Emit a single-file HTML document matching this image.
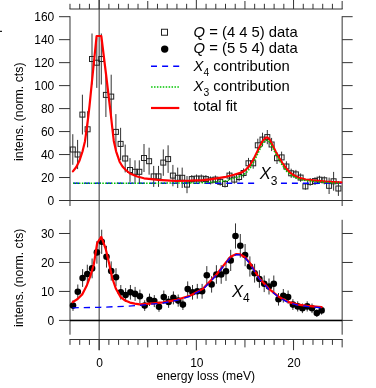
<!DOCTYPE html>
<html><head><meta charset="utf-8"><title>plot</title>
<style>html,body{margin:0;padding:0;background:#fff;}body{width:376px;height:388px;position:relative;overflow:hidden;font-family:"Liberation Sans",sans-serif;}</style>
</head><body>
<svg width="376" height="388" viewBox="0 0 376 388" style="position:absolute;left:0;top:0;filter:grayscale(0);mix-blend-mode:multiply">
<rect width="376" height="388" fill="#fff"/>
<line x1="99.15" y1="0" x2="99.15" y2="350.2" stroke="#333" stroke-width="1"/>
<line x1="69.49" y1="9" x2="342.65" y2="9" stroke="#333" stroke-width="1"/>
<line x1="69.99" y1="9" x2="69.99" y2="3.8" stroke="#333" stroke-width="1"/>
<line x1="79.71" y1="9" x2="79.71" y2="3.8" stroke="#333" stroke-width="1"/>
<line x1="89.43" y1="9" x2="89.43" y2="3.8" stroke="#333" stroke-width="1"/>
<line x1="99.15" y1="9" x2="99.15" y2="-3.0" stroke="#333" stroke-width="1"/>
<line x1="108.87" y1="9" x2="108.87" y2="3.8" stroke="#333" stroke-width="1"/>
<line x1="118.59" y1="9" x2="118.59" y2="3.8" stroke="#333" stroke-width="1"/>
<line x1="128.31" y1="9" x2="128.31" y2="3.8" stroke="#333" stroke-width="1"/>
<line x1="138.03" y1="9" x2="138.03" y2="3.8" stroke="#333" stroke-width="1"/>
<line x1="147.75" y1="9" x2="147.75" y2="1.0" stroke="#333" stroke-width="1"/>
<line x1="157.47" y1="9" x2="157.47" y2="3.8" stroke="#333" stroke-width="1"/>
<line x1="167.19" y1="9" x2="167.19" y2="3.8" stroke="#333" stroke-width="1"/>
<line x1="176.91" y1="9" x2="176.91" y2="3.8" stroke="#333" stroke-width="1"/>
<line x1="186.63" y1="9" x2="186.63" y2="3.8" stroke="#333" stroke-width="1"/>
<line x1="196.35" y1="9" x2="196.35" y2="-3.0" stroke="#333" stroke-width="1"/>
<line x1="206.07" y1="9" x2="206.07" y2="3.8" stroke="#333" stroke-width="1"/>
<line x1="215.79" y1="9" x2="215.79" y2="3.8" stroke="#333" stroke-width="1"/>
<line x1="225.51" y1="9" x2="225.51" y2="3.8" stroke="#333" stroke-width="1"/>
<line x1="235.23" y1="9" x2="235.23" y2="3.8" stroke="#333" stroke-width="1"/>
<line x1="244.95" y1="9" x2="244.95" y2="1.0" stroke="#333" stroke-width="1"/>
<line x1="254.67" y1="9" x2="254.67" y2="3.8" stroke="#333" stroke-width="1"/>
<line x1="264.39" y1="9" x2="264.39" y2="3.8" stroke="#333" stroke-width="1"/>
<line x1="274.11" y1="9" x2="274.11" y2="3.8" stroke="#333" stroke-width="1"/>
<line x1="283.83" y1="9" x2="283.83" y2="3.8" stroke="#333" stroke-width="1"/>
<line x1="293.55" y1="9" x2="293.55" y2="-3.0" stroke="#333" stroke-width="1"/>
<line x1="303.27" y1="9" x2="303.27" y2="3.8" stroke="#333" stroke-width="1"/>
<line x1="312.99" y1="9" x2="312.99" y2="3.8" stroke="#333" stroke-width="1"/>
<line x1="322.71" y1="9" x2="322.71" y2="3.8" stroke="#333" stroke-width="1"/>
<line x1="332.43" y1="9" x2="332.43" y2="3.8" stroke="#333" stroke-width="1"/>
<line x1="342.15" y1="9" x2="342.15" y2="1.0" stroke="#333" stroke-width="1"/>
<line x1="69.49" y1="339.5" x2="342.65" y2="339.5" stroke="#333" stroke-width="1"/>
<line x1="69.99" y1="339.5" x2="69.99" y2="344.9" stroke="#333" stroke-width="1"/>
<line x1="79.71" y1="339.5" x2="79.71" y2="344.9" stroke="#333" stroke-width="1"/>
<line x1="89.43" y1="339.5" x2="89.43" y2="344.9" stroke="#333" stroke-width="1"/>
<line x1="99.15" y1="339.5" x2="99.15" y2="350.2" stroke="#333" stroke-width="1"/>
<line x1="108.87" y1="339.5" x2="108.87" y2="344.9" stroke="#333" stroke-width="1"/>
<line x1="118.59" y1="339.5" x2="118.59" y2="344.9" stroke="#333" stroke-width="1"/>
<line x1="128.31" y1="339.5" x2="128.31" y2="344.9" stroke="#333" stroke-width="1"/>
<line x1="138.03" y1="339.5" x2="138.03" y2="344.9" stroke="#333" stroke-width="1"/>
<line x1="147.75" y1="339.5" x2="147.75" y2="347.4" stroke="#333" stroke-width="1"/>
<line x1="157.47" y1="339.5" x2="157.47" y2="344.9" stroke="#333" stroke-width="1"/>
<line x1="167.19" y1="339.5" x2="167.19" y2="344.9" stroke="#333" stroke-width="1"/>
<line x1="176.91" y1="339.5" x2="176.91" y2="344.9" stroke="#333" stroke-width="1"/>
<line x1="186.63" y1="339.5" x2="186.63" y2="344.9" stroke="#333" stroke-width="1"/>
<line x1="196.35" y1="339.5" x2="196.35" y2="350.2" stroke="#333" stroke-width="1"/>
<line x1="206.07" y1="339.5" x2="206.07" y2="344.9" stroke="#333" stroke-width="1"/>
<line x1="215.79" y1="339.5" x2="215.79" y2="344.9" stroke="#333" stroke-width="1"/>
<line x1="225.51" y1="339.5" x2="225.51" y2="344.9" stroke="#333" stroke-width="1"/>
<line x1="235.23" y1="339.5" x2="235.23" y2="344.9" stroke="#333" stroke-width="1"/>
<line x1="244.95" y1="339.5" x2="244.95" y2="347.4" stroke="#333" stroke-width="1"/>
<line x1="254.67" y1="339.5" x2="254.67" y2="344.9" stroke="#333" stroke-width="1"/>
<line x1="264.39" y1="339.5" x2="264.39" y2="344.9" stroke="#333" stroke-width="1"/>
<line x1="274.11" y1="339.5" x2="274.11" y2="344.9" stroke="#333" stroke-width="1"/>
<line x1="283.83" y1="339.5" x2="283.83" y2="344.9" stroke="#333" stroke-width="1"/>
<line x1="293.55" y1="339.5" x2="293.55" y2="350.2" stroke="#333" stroke-width="1"/>
<line x1="303.27" y1="339.5" x2="303.27" y2="344.9" stroke="#333" stroke-width="1"/>
<line x1="312.99" y1="339.5" x2="312.99" y2="344.9" stroke="#333" stroke-width="1"/>
<line x1="322.71" y1="339.5" x2="322.71" y2="344.9" stroke="#333" stroke-width="1"/>
<line x1="332.43" y1="339.5" x2="332.43" y2="344.9" stroke="#333" stroke-width="1"/>
<line x1="342.15" y1="339.5" x2="342.15" y2="347.4" stroke="#333" stroke-width="1"/>
<line x1="69.99" y1="16.20" x2="69.99" y2="206" stroke="#333" stroke-width="1"/>
<line x1="342.15" y1="16.20" x2="342.15" y2="206" stroke="#333" stroke-width="1"/>
<line x1="58.99" y1="177.53" x2="69.99" y2="177.53" stroke="#333" stroke-width="1"/>
<line x1="342.15" y1="177.53" x2="352.65" y2="177.53" stroke="#333" stroke-width="1"/>
<line x1="58.99" y1="154.55" x2="69.99" y2="154.55" stroke="#333" stroke-width="1"/>
<line x1="342.15" y1="154.55" x2="352.65" y2="154.55" stroke="#333" stroke-width="1"/>
<line x1="58.99" y1="131.57" x2="69.99" y2="131.57" stroke="#333" stroke-width="1"/>
<line x1="342.15" y1="131.57" x2="352.65" y2="131.57" stroke="#333" stroke-width="1"/>
<line x1="58.99" y1="108.60" x2="69.99" y2="108.60" stroke="#333" stroke-width="1"/>
<line x1="342.15" y1="108.60" x2="352.65" y2="108.60" stroke="#333" stroke-width="1"/>
<line x1="58.99" y1="85.62" x2="69.99" y2="85.62" stroke="#333" stroke-width="1"/>
<line x1="342.15" y1="85.62" x2="352.65" y2="85.62" stroke="#333" stroke-width="1"/>
<line x1="58.99" y1="62.65" x2="69.99" y2="62.65" stroke="#333" stroke-width="1"/>
<line x1="342.15" y1="62.65" x2="352.65" y2="62.65" stroke="#333" stroke-width="1"/>
<line x1="58.99" y1="39.67" x2="69.99" y2="39.67" stroke="#333" stroke-width="1"/>
<line x1="342.15" y1="39.67" x2="352.65" y2="39.67" stroke="#333" stroke-width="1"/>
<line x1="58.99" y1="16.70" x2="69.99" y2="16.70" stroke="#333" stroke-width="1"/>
<line x1="342.15" y1="16.70" x2="352.65" y2="16.70" stroke="#333" stroke-width="1"/>
<line x1="58.99" y1="200.5" x2="352.65" y2="200.5" stroke="#333" stroke-width="1"/>
<line x1="69.99" y1="219.8" x2="69.99" y2="334.7" stroke="#333" stroke-width="1"/>
<line x1="342.15" y1="219.8" x2="342.15" y2="334.7" stroke="#333" stroke-width="1"/>
<line x1="58.99" y1="291.43" x2="69.99" y2="291.43" stroke="#333" stroke-width="1"/>
<line x1="342.15" y1="291.43" x2="352.65" y2="291.43" stroke="#333" stroke-width="1"/>
<line x1="58.99" y1="262.46" x2="69.99" y2="262.46" stroke="#333" stroke-width="1"/>
<line x1="342.15" y1="262.46" x2="352.65" y2="262.46" stroke="#333" stroke-width="1"/>
<line x1="58.99" y1="233.49" x2="69.99" y2="233.49" stroke="#333" stroke-width="1"/>
<line x1="342.15" y1="233.49" x2="352.65" y2="233.49" stroke="#333" stroke-width="1"/>
<line x1="58.99" y1="320.4" x2="352.65" y2="320.4" stroke="#333" stroke-width="1"/>
<line x1="69.99" y1="320.54999999999995" x2="342.15" y2="320.54999999999995" stroke="#000" stroke-width="1.6"/>
<line x1="72.8" y1="134.2" x2="72.8" y2="164.8" stroke="#333" stroke-width="1"/>
<line x1="77.6" y1="139.9" x2="77.6" y2="169.1" stroke="#333" stroke-width="1"/>
<line x1="82.4" y1="94.7" x2="82.4" y2="134.5" stroke="#333" stroke-width="1"/>
<line x1="87.6" y1="111.2" x2="87.6" y2="147.4" stroke="#333" stroke-width="1"/>
<line x1="92.0" y1="33.5" x2="92.0" y2="84.5" stroke="#333" stroke-width="1"/>
<line x1="96.8" y1="37.5" x2="96.8" y2="87.9" stroke="#333" stroke-width="1"/>
<line x1="101.3" y1="33.5" x2="101.3" y2="84.5" stroke="#333" stroke-width="1"/>
<line x1="105.9" y1="72.8" x2="105.9" y2="117.0" stroke="#333" stroke-width="1"/>
<line x1="111.2" y1="74.7" x2="111.2" y2="118.5" stroke="#333" stroke-width="1"/>
<line x1="115.9" y1="114.1" x2="115.9" y2="149.7" stroke="#333" stroke-width="1"/>
<line x1="120.6" y1="127.8" x2="120.6" y2="160.0" stroke="#333" stroke-width="1"/>
<line x1="125.2" y1="144.6" x2="125.2" y2="172.4" stroke="#333" stroke-width="1"/>
<line x1="130.0" y1="158.1" x2="130.0" y2="181.9" stroke="#333" stroke-width="1"/>
<line x1="135.0" y1="160.3" x2="135.0" y2="183.3" stroke="#333" stroke-width="1"/>
<line x1="139.3" y1="160.3" x2="139.3" y2="183.3" stroke="#333" stroke-width="1"/>
<line x1="144.0" y1="144.0" x2="144.0" y2="172.0" stroke="#333" stroke-width="1"/>
<line x1="149.1" y1="147.7" x2="149.1" y2="174.7" stroke="#333" stroke-width="1"/>
<line x1="153.7" y1="165.9" x2="153.7" y2="186.9" stroke="#333" stroke-width="1"/>
<line x1="158.5" y1="165.9" x2="158.5" y2="186.9" stroke="#333" stroke-width="1"/>
<line x1="163.3" y1="149.4" x2="163.3" y2="175.8" stroke="#333" stroke-width="1"/>
<line x1="168.1" y1="145.3" x2="168.1" y2="172.9" stroke="#333" stroke-width="1"/>
<line x1="172.9" y1="164.9" x2="172.9" y2="186.3" stroke="#333" stroke-width="1"/>
<line x1="177.7" y1="167.6" x2="177.7" y2="188.0" stroke="#333" stroke-width="1"/>
<line x1="182.2" y1="167.6" x2="182.2" y2="188.0" stroke="#333" stroke-width="1"/>
<line x1="187.0" y1="176.0" x2="187.0" y2="193.2" stroke="#333" stroke-width="1"/>
<line x1="191.8" y1="175.0" x2="191.8" y2="183.2" stroke="#333" stroke-width="1"/>
<line x1="196.5" y1="174.5" x2="196.5" y2="182.7" stroke="#333" stroke-width="1"/>
<line x1="201.3" y1="174.5" x2="201.3" y2="182.7" stroke="#333" stroke-width="1"/>
<line x1="205.9" y1="175.0" x2="205.9" y2="183.2" stroke="#333" stroke-width="1"/>
<line x1="210.6" y1="176.4" x2="210.6" y2="184.4" stroke="#333" stroke-width="1"/>
<line x1="215.4" y1="175.5" x2="215.4" y2="183.7" stroke="#333" stroke-width="1"/>
<line x1="220.2" y1="178.0" x2="220.2" y2="185.6" stroke="#333" stroke-width="1"/>
<line x1="225.0" y1="180.3" x2="225.0" y2="187.5" stroke="#333" stroke-width="1"/>
<line x1="229.5" y1="171.2" x2="229.5" y2="180.0" stroke="#333" stroke-width="1"/>
<line x1="234.3" y1="175.5" x2="234.3" y2="183.7" stroke="#333" stroke-width="1"/>
<line x1="239.1" y1="172.7" x2="239.1" y2="181.3" stroke="#333" stroke-width="1"/>
<line x1="243.6" y1="168.4" x2="243.6" y2="177.6" stroke="#333" stroke-width="1"/>
<line x1="248.5" y1="157.9" x2="248.5" y2="168.7" stroke="#333" stroke-width="1"/>
<line x1="253.2" y1="157.9" x2="253.2" y2="168.7" stroke="#333" stroke-width="1"/>
<line x1="257.8" y1="138.7" x2="257.8" y2="151.9" stroke="#333" stroke-width="1"/>
<line x1="262.5" y1="132.7" x2="262.5" y2="146.5" stroke="#333" stroke-width="1"/>
<line x1="267.3" y1="130.0" x2="267.3" y2="144.2" stroke="#333" stroke-width="1"/>
<line x1="271.6" y1="137.9" x2="271.6" y2="151.1" stroke="#333" stroke-width="1"/>
<line x1="277.0" y1="152.4" x2="277.0" y2="164.0" stroke="#333" stroke-width="1"/>
<line x1="281.6" y1="151.6" x2="281.6" y2="163.2" stroke="#333" stroke-width="1"/>
<line x1="286.4" y1="161.3" x2="286.4" y2="171.7" stroke="#333" stroke-width="1"/>
<line x1="291.2" y1="168.7" x2="291.2" y2="177.9" stroke="#333" stroke-width="1"/>
<line x1="295.9" y1="169.9" x2="295.9" y2="178.9" stroke="#333" stroke-width="1"/>
<line x1="300.6" y1="173.4" x2="300.6" y2="181.8" stroke="#333" stroke-width="1"/>
<line x1="305.4" y1="183.1" x2="305.4" y2="189.7" stroke="#333" stroke-width="1"/>
<line x1="310.2" y1="178.1" x2="310.2" y2="185.7" stroke="#333" stroke-width="1"/>
<line x1="315.0" y1="177.2" x2="315.0" y2="185.0" stroke="#333" stroke-width="1"/>
<line x1="319.5" y1="175.7" x2="319.5" y2="183.7" stroke="#333" stroke-width="1"/>
<line x1="324.3" y1="176.3" x2="324.3" y2="184.3" stroke="#333" stroke-width="1"/>
<line x1="329.1" y1="177.6" x2="329.1" y2="194.0" stroke="#333" stroke-width="1"/>
<line x1="333.6" y1="171.9" x2="333.6" y2="190.7" stroke="#333" stroke-width="1"/>
<line x1="338.4" y1="181.1" x2="338.4" y2="195.9" stroke="#333" stroke-width="1"/>
<rect x="70.3" y="147.0" width="5" height="5" fill="none" stroke="#222" stroke-width="1"/>
<rect x="75.1" y="152.0" width="5" height="5" fill="none" stroke="#222" stroke-width="1"/>
<rect x="79.9" y="112.1" width="5" height="5" fill="none" stroke="#222" stroke-width="1"/>
<rect x="85.1" y="126.8" width="5" height="5" fill="none" stroke="#222" stroke-width="1"/>
<rect x="89.5" y="56.5" width="5" height="5" fill="none" stroke="#222" stroke-width="1"/>
<rect x="94.3" y="60.2" width="5" height="5" fill="none" stroke="#222" stroke-width="1"/>
<rect x="98.8" y="56.5" width="5" height="5" fill="none" stroke="#222" stroke-width="1"/>
<rect x="103.4" y="92.4" width="5" height="5" fill="none" stroke="#222" stroke-width="1"/>
<rect x="108.7" y="94.1" width="5" height="5" fill="none" stroke="#222" stroke-width="1"/>
<rect x="113.4" y="129.4" width="5" height="5" fill="none" stroke="#222" stroke-width="1"/>
<rect x="118.1" y="141.4" width="5" height="5" fill="none" stroke="#222" stroke-width="1"/>
<rect x="122.7" y="156.0" width="5" height="5" fill="none" stroke="#222" stroke-width="1"/>
<rect x="127.5" y="167.5" width="5" height="5" fill="none" stroke="#222" stroke-width="1"/>
<rect x="132.5" y="169.3" width="5" height="5" fill="none" stroke="#222" stroke-width="1"/>
<rect x="136.8" y="169.3" width="5" height="5" fill="none" stroke="#222" stroke-width="1"/>
<rect x="141.5" y="155.5" width="5" height="5" fill="none" stroke="#222" stroke-width="1"/>
<rect x="146.6" y="158.7" width="5" height="5" fill="none" stroke="#222" stroke-width="1"/>
<rect x="151.2" y="173.9" width="5" height="5" fill="none" stroke="#222" stroke-width="1"/>
<rect x="156.0" y="173.9" width="5" height="5" fill="none" stroke="#222" stroke-width="1"/>
<rect x="160.8" y="160.1" width="5" height="5" fill="none" stroke="#222" stroke-width="1"/>
<rect x="165.6" y="156.6" width="5" height="5" fill="none" stroke="#222" stroke-width="1"/>
<rect x="170.4" y="173.1" width="5" height="5" fill="none" stroke="#222" stroke-width="1"/>
<rect x="175.2" y="175.3" width="5" height="5" fill="none" stroke="#222" stroke-width="1"/>
<rect x="179.7" y="175.3" width="5" height="5" fill="none" stroke="#222" stroke-width="1"/>
<rect x="184.5" y="182.1" width="5" height="5" fill="none" stroke="#222" stroke-width="1"/>
<rect x="189.3" y="176.6" width="5" height="5" fill="none" stroke="#222" stroke-width="1"/>
<rect x="194.0" y="176.1" width="5" height="5" fill="none" stroke="#222" stroke-width="1"/>
<rect x="198.8" y="176.1" width="5" height="5" fill="none" stroke="#222" stroke-width="1"/>
<rect x="203.4" y="176.6" width="5" height="5" fill="none" stroke="#222" stroke-width="1"/>
<rect x="208.1" y="177.9" width="5" height="5" fill="none" stroke="#222" stroke-width="1"/>
<rect x="212.9" y="177.1" width="5" height="5" fill="none" stroke="#222" stroke-width="1"/>
<rect x="217.7" y="179.3" width="5" height="5" fill="none" stroke="#222" stroke-width="1"/>
<rect x="222.5" y="181.4" width="5" height="5" fill="none" stroke="#222" stroke-width="1"/>
<rect x="227.0" y="173.1" width="5" height="5" fill="none" stroke="#222" stroke-width="1"/>
<rect x="231.8" y="177.1" width="5" height="5" fill="none" stroke="#222" stroke-width="1"/>
<rect x="236.6" y="174.5" width="5" height="5" fill="none" stroke="#222" stroke-width="1"/>
<rect x="241.1" y="170.5" width="5" height="5" fill="none" stroke="#222" stroke-width="1"/>
<rect x="246.0" y="160.8" width="5" height="5" fill="none" stroke="#222" stroke-width="1"/>
<rect x="250.7" y="160.8" width="5" height="5" fill="none" stroke="#222" stroke-width="1"/>
<rect x="255.3" y="142.8" width="5" height="5" fill="none" stroke="#222" stroke-width="1"/>
<rect x="260.0" y="137.1" width="5" height="5" fill="none" stroke="#222" stroke-width="1"/>
<rect x="264.8" y="134.6" width="5" height="5" fill="none" stroke="#222" stroke-width="1"/>
<rect x="269.1" y="142.0" width="5" height="5" fill="none" stroke="#222" stroke-width="1"/>
<rect x="274.5" y="155.7" width="5" height="5" fill="none" stroke="#222" stroke-width="1"/>
<rect x="279.1" y="154.9" width="5" height="5" fill="none" stroke="#222" stroke-width="1"/>
<rect x="283.9" y="164.0" width="5" height="5" fill="none" stroke="#222" stroke-width="1"/>
<rect x="288.7" y="170.8" width="5" height="5" fill="none" stroke="#222" stroke-width="1"/>
<rect x="293.4" y="171.9" width="5" height="5" fill="none" stroke="#222" stroke-width="1"/>
<rect x="298.1" y="175.1" width="5" height="5" fill="none" stroke="#222" stroke-width="1"/>
<rect x="302.9" y="183.9" width="5" height="5" fill="none" stroke="#222" stroke-width="1"/>
<rect x="307.7" y="179.4" width="5" height="5" fill="none" stroke="#222" stroke-width="1"/>
<rect x="312.5" y="178.6" width="5" height="5" fill="none" stroke="#222" stroke-width="1"/>
<rect x="317.0" y="177.2" width="5" height="5" fill="none" stroke="#222" stroke-width="1"/>
<rect x="321.8" y="177.8" width="5" height="5" fill="none" stroke="#222" stroke-width="1"/>
<rect x="326.6" y="183.3" width="5" height="5" fill="none" stroke="#222" stroke-width="1"/>
<rect x="331.1" y="178.8" width="5" height="5" fill="none" stroke="#222" stroke-width="1"/>
<rect x="335.9" y="186.0" width="5" height="5" fill="none" stroke="#222" stroke-width="1"/>
<line x1="73.1" y1="183.2" x2="341.5" y2="183.2" stroke="#0000ff" stroke-width="1.35" stroke-dasharray="6 4.94"/>
<rect x="258.5" y="166.5" width="18.5" height="19.5" fill="#fff"/>
<polyline points="72.9,171.4 76.3,167.0 79.4,160.8 82.5,151.5 85.0,141.2 86.6,129.5 88.1,118.0 89.5,106.0 91.8,83.0 96.6,36.0 101.3,36.0 106.0,74.0 110.7,113.3 112.3,128.0 113.8,141.0 116.1,151.3 119.6,161.7 122.5,166.5 125.8,170.0 130.0,173.5 137.2,176.5 144.0,178.3 158.4,179.8 170.0,180.6 176.0,181.0 190.0,180.7 202.6,180.1 210.0,179.3 218.0,178.2 226.0,176.8 234.0,174.7 241.9,172.4 246.0,169.6 249.9,165.3 253.8,158.8 257.8,150.5 262.3,141.4 265.0,138.2 267.3,137.3 269.5,139.2 272.6,145.3 276.0,152.2 279.3,158.0 282.6,163.3 285.9,168.0 289.2,171.8 292.6,174.6 299.2,177.9 305.9,179.6 316.0,180.6 326.0,181.5 338.4,182.3 341.3,182.4" fill="none" stroke="#ff0000" stroke-width="2.2" stroke-linejoin="round" stroke-linecap="round"/>
<polyline points="73.1,183.2 190.0,183.1 196.0,183.0 198.0,182.9 200.0,182.8 202.0,182.8 204.0,182.7 206.0,182.6 208.0,182.4 210.0,182.3 212.0,182.2 214.0,182.0 216.0,181.8 218.0,181.7 220.0,181.5 222.0,181.2 224.0,181.0 226.0,180.8 228.0,180.2 230.0,179.6 232.0,179.0 234.0,178.3 236.0,177.7 238.0,177.0 240.0,176.3 242.0,175.6 244.0,174.3 246.0,172.9 248.0,170.7 250.0,168.4 252.0,165.0 254.0,161.6 256.0,157.4 258.0,153.3 260.0,149.1 262.0,144.8 264.0,142.0 266.0,140.2 268.0,140.2 270.0,142.6 272.0,146.6 274.0,150.6 276.0,154.7 278.0,158.2 280.0,161.6 282.0,164.8 284.0,167.7 286.0,170.5 288.0,172.6 290.0,174.4 292.0,175.8 294.0,176.8 296.0,177.7 298.0,178.7 300.0,179.4 302.0,179.8 304.0,180.2 306.0,180.6 308.0,180.8 310.0,181.0 312.0,181.2 314.0,181.4 316.0,181.6 318.0,181.7 320.0,181.9 322.0,182.1 324.0,182.3 326.0,182.4 328.0,182.6 330.0,182.7 332.0,182.8 334.0,182.9 336.0,183.1 338.0,183.2 340.0,183.2" fill="none" stroke="#00c400" stroke-width="1.5" stroke-dasharray="1.5 1.42"/>
<line x1="73.0" y1="300.3" x2="73.0" y2="310.9" stroke="#333" stroke-width="1"/>
<line x1="77.8" y1="284.5" x2="77.8" y2="299.1" stroke="#333" stroke-width="1"/>
<line x1="82.6" y1="269.1" x2="82.6" y2="286.9" stroke="#333" stroke-width="1"/>
<line x1="87.3" y1="264.7" x2="87.3" y2="283.3" stroke="#333" stroke-width="1"/>
<line x1="92.1" y1="258.5" x2="92.1" y2="278.3" stroke="#333" stroke-width="1"/>
<line x1="96.9" y1="241.1" x2="96.9" y2="263.7" stroke="#333" stroke-width="1"/>
<line x1="101.7" y1="229.7" x2="101.7" y2="253.9" stroke="#333" stroke-width="1"/>
<line x1="106.5" y1="245.8" x2="106.5" y2="267.6" stroke="#333" stroke-width="1"/>
<line x1="111.2" y1="261.4" x2="111.2" y2="280.6" stroke="#333" stroke-width="1"/>
<line x1="116.0" y1="268.2" x2="116.0" y2="286.2" stroke="#333" stroke-width="1"/>
<line x1="120.8" y1="285.0" x2="120.8" y2="299.6" stroke="#333" stroke-width="1"/>
<line x1="125.6" y1="288.1" x2="125.6" y2="301.9" stroke="#333" stroke-width="1"/>
<line x1="130.4" y1="285.0" x2="130.4" y2="299.6" stroke="#333" stroke-width="1"/>
<line x1="135.1" y1="286.9" x2="135.1" y2="300.9" stroke="#333" stroke-width="1"/>
<line x1="139.9" y1="289.6" x2="139.9" y2="303.0" stroke="#333" stroke-width="1"/>
<line x1="144.7" y1="300.3" x2="144.7" y2="310.9" stroke="#333" stroke-width="1"/>
<line x1="149.5" y1="293.6" x2="149.5" y2="306.0" stroke="#333" stroke-width="1"/>
<line x1="154.3" y1="295.1" x2="154.3" y2="307.1" stroke="#333" stroke-width="1"/>
<line x1="159.0" y1="301.6" x2="159.0" y2="311.8" stroke="#333" stroke-width="1"/>
<line x1="163.8" y1="290.5" x2="163.8" y2="303.7" stroke="#333" stroke-width="1"/>
<line x1="168.6" y1="296.0" x2="168.6" y2="307.8" stroke="#333" stroke-width="1"/>
<line x1="173.4" y1="291.4" x2="173.4" y2="304.4" stroke="#333" stroke-width="1"/>
<line x1="178.2" y1="294.5" x2="178.2" y2="306.7" stroke="#333" stroke-width="1"/>
<line x1="182.9" y1="299.2" x2="182.9" y2="310.0" stroke="#333" stroke-width="1"/>
<line x1="187.7" y1="281.4" x2="187.7" y2="296.8" stroke="#333" stroke-width="1"/>
<line x1="192.5" y1="285.0" x2="192.5" y2="299.6" stroke="#333" stroke-width="1"/>
<line x1="197.3" y1="283.9" x2="197.3" y2="298.7" stroke="#333" stroke-width="1"/>
<line x1="202.1" y1="283.9" x2="202.1" y2="298.7" stroke="#333" stroke-width="1"/>
<line x1="206.8" y1="266.1" x2="206.8" y2="284.5" stroke="#333" stroke-width="1"/>
<line x1="211.6" y1="276.2" x2="211.6" y2="292.6" stroke="#333" stroke-width="1"/>
<line x1="216.4" y1="265.2" x2="216.4" y2="283.8" stroke="#333" stroke-width="1"/>
<line x1="221.2" y1="265.2" x2="221.2" y2="283.8" stroke="#333" stroke-width="1"/>
<line x1="226.0" y1="261.7" x2="226.0" y2="280.9" stroke="#333" stroke-width="1"/>
<line x1="230.7" y1="249.8" x2="230.7" y2="271.0" stroke="#333" stroke-width="1"/>
<line x1="235.5" y1="223.4" x2="235.5" y2="248.6" stroke="#333" stroke-width="1"/>
<line x1="240.3" y1="234.0" x2="240.3" y2="257.6" stroke="#333" stroke-width="1"/>
<line x1="245.1" y1="244.0" x2="245.1" y2="266.2" stroke="#333" stroke-width="1"/>
<line x1="249.9" y1="256.4" x2="249.9" y2="276.6" stroke="#333" stroke-width="1"/>
<line x1="254.6" y1="263.8" x2="254.6" y2="282.6" stroke="#333" stroke-width="1"/>
<line x1="259.4" y1="270.2" x2="259.4" y2="287.8" stroke="#333" stroke-width="1"/>
<line x1="264.2" y1="275.5" x2="264.2" y2="292.1" stroke="#333" stroke-width="1"/>
<line x1="269.0" y1="278.5" x2="269.0" y2="294.5" stroke="#333" stroke-width="1"/>
<line x1="273.8" y1="275.5" x2="273.8" y2="292.1" stroke="#333" stroke-width="1"/>
<line x1="278.5" y1="293.0" x2="278.5" y2="305.6" stroke="#333" stroke-width="1"/>
<line x1="283.3" y1="289.0" x2="283.3" y2="302.6" stroke="#333" stroke-width="1"/>
<line x1="288.1" y1="290.5" x2="288.1" y2="303.7" stroke="#333" stroke-width="1"/>
<line x1="292.9" y1="299.2" x2="292.9" y2="310.0" stroke="#333" stroke-width="1"/>
<line x1="297.7" y1="301.3" x2="297.7" y2="311.5" stroke="#333" stroke-width="1"/>
<line x1="302.4" y1="303.5" x2="302.4" y2="313.1" stroke="#333" stroke-width="1"/>
<line x1="307.2" y1="301.3" x2="307.2" y2="311.5" stroke="#333" stroke-width="1"/>
<line x1="312.0" y1="303.5" x2="312.0" y2="313.1" stroke="#333" stroke-width="1"/>
<line x1="316.8" y1="309.4" x2="316.8" y2="316.8" stroke="#333" stroke-width="1"/>
<line x1="321.6" y1="306.1" x2="321.6" y2="314.7" stroke="#333" stroke-width="1"/>
<circle cx="73.0" cy="305.6" r="3.3" fill="#000"/>
<circle cx="77.8" cy="291.8" r="3.3" fill="#000"/>
<circle cx="82.6" cy="278.0" r="3.3" fill="#000"/>
<circle cx="87.3" cy="274.0" r="3.3" fill="#000"/>
<circle cx="92.1" cy="268.4" r="3.3" fill="#000"/>
<circle cx="96.9" cy="252.4" r="3.3" fill="#000"/>
<circle cx="101.7" cy="241.8" r="3.3" fill="#000"/>
<circle cx="106.5" cy="256.7" r="3.3" fill="#000"/>
<circle cx="111.2" cy="271.0" r="3.3" fill="#000"/>
<circle cx="116.0" cy="277.2" r="3.3" fill="#000"/>
<circle cx="120.8" cy="292.3" r="3.3" fill="#000"/>
<circle cx="125.6" cy="295.0" r="3.3" fill="#000"/>
<circle cx="130.4" cy="292.3" r="3.3" fill="#000"/>
<circle cx="135.1" cy="293.9" r="3.3" fill="#000"/>
<circle cx="139.9" cy="296.3" r="3.3" fill="#000"/>
<circle cx="144.7" cy="305.6" r="3.3" fill="#000"/>
<circle cx="149.5" cy="299.8" r="3.3" fill="#000"/>
<circle cx="154.3" cy="301.1" r="3.3" fill="#000"/>
<circle cx="159.0" cy="306.7" r="3.3" fill="#000"/>
<circle cx="163.8" cy="297.1" r="3.3" fill="#000"/>
<circle cx="168.6" cy="301.9" r="3.3" fill="#000"/>
<circle cx="173.4" cy="297.9" r="3.3" fill="#000"/>
<circle cx="178.2" cy="300.6" r="3.3" fill="#000"/>
<circle cx="182.9" cy="304.6" r="3.3" fill="#000"/>
<circle cx="187.7" cy="289.1" r="3.3" fill="#000"/>
<circle cx="192.5" cy="292.3" r="3.3" fill="#000"/>
<circle cx="197.3" cy="291.3" r="3.3" fill="#000"/>
<circle cx="202.1" cy="291.3" r="3.3" fill="#000"/>
<circle cx="206.8" cy="275.3" r="3.3" fill="#000"/>
<circle cx="211.6" cy="284.4" r="3.3" fill="#000"/>
<circle cx="216.4" cy="274.5" r="3.3" fill="#000"/>
<circle cx="221.2" cy="274.5" r="3.3" fill="#000"/>
<circle cx="226.0" cy="271.3" r="3.3" fill="#000"/>
<circle cx="230.7" cy="260.4" r="3.3" fill="#000"/>
<circle cx="235.5" cy="236.0" r="3.3" fill="#000"/>
<circle cx="240.3" cy="245.8" r="3.3" fill="#000"/>
<circle cx="245.1" cy="255.1" r="3.3" fill="#000"/>
<circle cx="249.9" cy="266.5" r="3.3" fill="#000"/>
<circle cx="254.6" cy="273.2" r="3.3" fill="#000"/>
<circle cx="259.4" cy="279.0" r="3.3" fill="#000"/>
<circle cx="264.2" cy="283.8" r="3.3" fill="#000"/>
<circle cx="269.0" cy="286.5" r="3.3" fill="#000"/>
<circle cx="273.8" cy="283.8" r="3.3" fill="#000"/>
<circle cx="278.5" cy="299.3" r="3.3" fill="#000"/>
<circle cx="283.3" cy="295.8" r="3.3" fill="#000"/>
<circle cx="288.1" cy="297.1" r="3.3" fill="#000"/>
<circle cx="292.9" cy="304.6" r="3.3" fill="#000"/>
<circle cx="297.7" cy="306.4" r="3.3" fill="#000"/>
<circle cx="302.4" cy="308.3" r="3.3" fill="#000"/>
<circle cx="307.2" cy="306.4" r="3.3" fill="#000"/>
<circle cx="312.0" cy="308.3" r="3.3" fill="#000"/>
<circle cx="316.8" cy="313.1" r="3.3" fill="#000"/>
<circle cx="321.6" cy="310.4" r="3.3" fill="#000"/>
<polyline points="72.7,302.1 77.6,299.0 82.2,294.4 86.9,285.2 90.4,275.9 93.8,264.5 97.2,243.0 101.3,236.8 105.6,248.5 108.9,262.5 112.4,278.5 115.8,288.5 120.4,296.8 125.2,300.6 130.0,302.6 134.8,303.6 139.6,304.4 150.0,303.6 163.3,302.4 176.6,299.8 189.9,295.8 203.2,288.6 216.5,274.5 225.8,262.6 230.6,256.7 236.4,254.0 240.0,254.3 245.0,257.2 249.6,262.6 259.1,278.0 268.7,288.6 278.6,296.6 288.1,301.9 297.7,304.6 307.3,305.9 321.6,307.2" fill="none" stroke="#ff0000" stroke-width="2.2" stroke-linejoin="round" stroke-linecap="round"/>
<polyline points="72.5,307.8 100.0,307.3 125.0,306.3 140.0,305.3 150.0,304.3 163.3,303.0 176.6,300.4 189.9,296.4 203.2,289.2 216.5,275.1 225.8,263.2 230.6,257.3 236.4,254.6 240.0,254.9 245.0,257.8 249.6,263.2 259.1,278.6 268.7,289.2 278.6,297.2 288.1,302.5 297.7,305.2 307.3,306.5 321.6,307.8" fill="none" stroke="#0000ff" stroke-width="1.35" stroke-dasharray="6.3 4.95"/>
<rect x="161.5" y="29.25" width="6" height="6" fill="none" stroke="#222" stroke-width="1"/>
<circle cx="164.7" cy="49.1" r="3.7" fill="#000"/>
<line x1="151" y1="66.2" x2="179.3" y2="66.2" stroke="#0000ff" stroke-width="1.5" stroke-dasharray="6 5.1"/>
<line x1="151.1" y1="86.9" x2="179.3" y2="86.9" stroke="#00c400" stroke-width="1.5" stroke-dasharray="1.5 1.42"/>
<line x1="151" y1="108" x2="179.3" y2="108" stroke="#ff0000" stroke-width="2.2"/>
<line x1="0" y1="31.4" x2="2" y2="31.4" stroke="#222" stroke-width="1.2"/>
<text x="54.3" y="204.8" font-size="12" text-anchor="end" font-family="Liberation Sans, sans-serif" fill="#000" >0</text>
<text x="54.3" y="181.82500000000002" font-size="12" text-anchor="end" font-family="Liberation Sans, sans-serif" fill="#000" >20</text>
<text x="54.3" y="158.85000000000002" font-size="12" text-anchor="end" font-family="Liberation Sans, sans-serif" fill="#000" >40</text>
<text x="54.3" y="135.875" font-size="12" text-anchor="end" font-family="Liberation Sans, sans-serif" fill="#000" >60</text>
<text x="54.3" y="112.89999999999999" font-size="12" text-anchor="end" font-family="Liberation Sans, sans-serif" fill="#000" >80</text>
<text x="54.3" y="89.92499999999998" font-size="12" text-anchor="end" font-family="Liberation Sans, sans-serif" fill="#000" >100</text>
<text x="54.3" y="66.94999999999997" font-size="12" text-anchor="end" font-family="Liberation Sans, sans-serif" fill="#000" >120</text>
<text x="54.3" y="43.97499999999998" font-size="12" text-anchor="end" font-family="Liberation Sans, sans-serif" fill="#000" >140</text>
<text x="54.3" y="20.99999999999999" font-size="12" text-anchor="end" font-family="Liberation Sans, sans-serif" fill="#000" >160</text>
<text x="54.3" y="324.7" font-size="12" text-anchor="end" font-family="Liberation Sans, sans-serif" fill="#000" >0</text>
<text x="54.3" y="295.72999999999996" font-size="12" text-anchor="end" font-family="Liberation Sans, sans-serif" fill="#000" >10</text>
<text x="54.3" y="266.76" font-size="12" text-anchor="end" font-family="Liberation Sans, sans-serif" fill="#000" >20</text>
<text x="54.3" y="237.79" font-size="12" text-anchor="end" font-family="Liberation Sans, sans-serif" fill="#000" >30</text>
<text x="99.65" y="366.8" font-size="12" text-anchor="middle" font-family="Liberation Sans, sans-serif" fill="#000" >0</text>
<text x="196.85000000000002" y="366.8" font-size="12" text-anchor="middle" font-family="Liberation Sans, sans-serif" fill="#000" >10</text>
<text x="294.05" y="366.8" font-size="12" text-anchor="middle" font-family="Liberation Sans, sans-serif" fill="#000" >20</text>
<text x="205.8" y="380" font-size="12.15" text-anchor="middle" font-family="Liberation Sans, sans-serif" fill="#000" >energy loss (meV)</text>
<text transform="translate(23,111.7) rotate(-90)" font-size="12.3" text-anchor="middle" font-family="Liberation Sans, sans-serif">intens. (norm. cts)</text>
<text transform="translate(23,277.8) rotate(-90)" font-size="12.3" text-anchor="middle" font-family="Liberation Sans, sans-serif">intens. (norm. cts)</text>
<text x="193.6" y="36.7" font-size="14.8" text-anchor="start" font-family="Liberation Sans, sans-serif" fill="#000" ><tspan font-style="italic">Q</tspan> = (4 4 5) data</text>
<text x="193.6" y="53.4" font-size="14.8" text-anchor="start" font-family="Liberation Sans, sans-serif" fill="#000" ><tspan font-style="italic">Q</tspan> = (5 5 4) data</text>
<text x="193.6" y="70.5" font-size="14.8" text-anchor="start" font-family="Liberation Sans, sans-serif" fill="#000" ><tspan font-style="italic">X</tspan><tspan font-size="10.3" dy="5">4</tspan><tspan dy="-5"> contribution</tspan></text>
<text x="193.6" y="90.5" font-size="14.8" text-anchor="start" font-family="Liberation Sans, sans-serif" fill="#000" ><tspan font-style="italic">X</tspan><tspan font-size="10.3" dy="5">3</tspan><tspan dy="-5"> contribution</tspan></text>
<text x="193.6" y="111.3" font-size="14.8" text-anchor="start" font-family="Liberation Sans, sans-serif" fill="#000" >total fit</text>
<text x="259.8" y="179.4" font-size="16.5" text-anchor="start" font-family="Liberation Sans, sans-serif" fill="#000" ><tspan font-style="italic">X</tspan><tspan font-size="12" dy="5.3">3</tspan></text>
<text x="232" y="296.8" font-size="16.5" text-anchor="start" font-family="Liberation Sans, sans-serif" fill="#000" ><tspan font-style="italic">X</tspan><tspan font-size="12" dy="5.3">4</tspan></text>
</svg>
</body></html>
